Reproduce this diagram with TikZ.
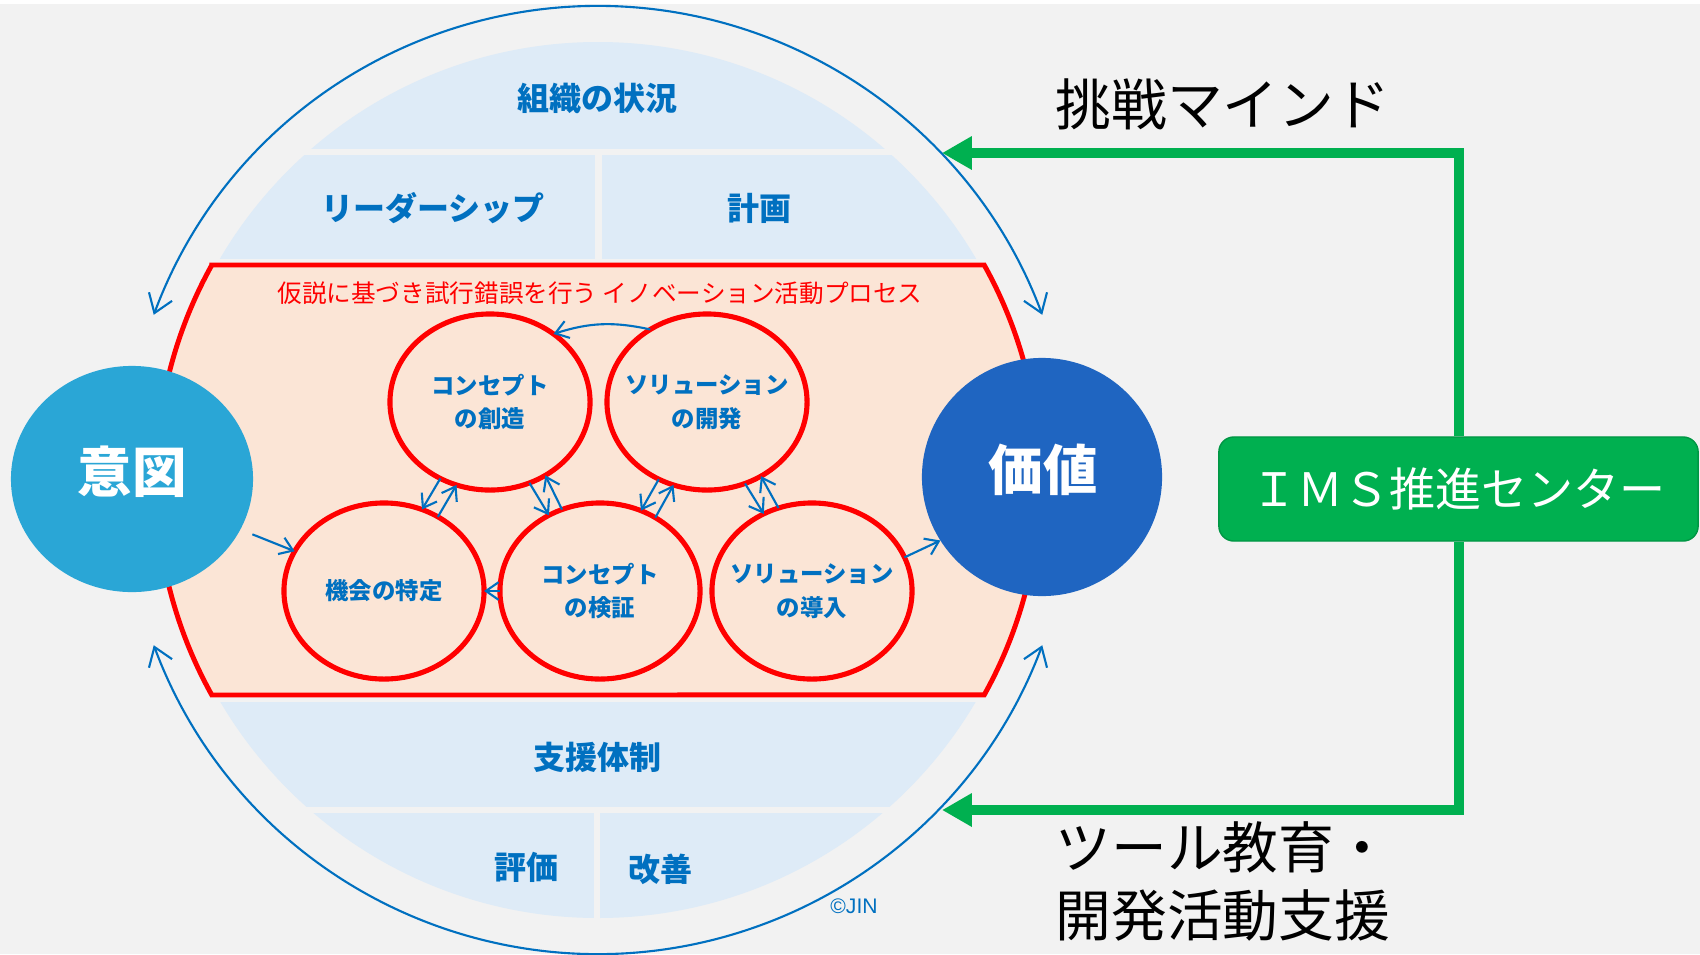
\documentclass[tikz,border=0pt]{standalone}
\usepackage{fontspec}
\newfontfamily\jp{Noto Sans CJK JP}
\newfontfamily\latin{Liberation Sans}
\usetikzlibrary{shapes.geometric,arrows.meta,calc}
\definecolor{bgc}{HTML}{F2F2F2}
\definecolor{lblue}{HTML}{DEEBF7}
\definecolor{peach}{HTML}{FBE5D6}
\definecolor{tblue}{HTML}{0070C0}
\definecolor{rred}{HTML}{FF0000}
\definecolor{itoc}{HTML}{2AA6D6}
\definecolor{kachic}{HTML}{1F65C1}
\definecolor{ggreen}{HTML}{00B050}
\begin{document}
\begin{tikzpicture}[x=0.01cm,y=-0.01cm,
  heading/.style={text=tblue,font=\jp\bfseries\fontsize{9.1}{11}\selectfont,inner sep=0pt},
  stage/.style={ellipse,draw=rred,line width=1.45pt,minimum width=2cm,minimum height=1.76cm,inner sep=0pt,outer sep=0pt},
  stagetext/.style={align=center,text=tblue,inner sep=0pt,font=\jp\bfseries\fontsize{6.65}{9.6}\selectfont},
  bigcircle/.style={ellipse,inner sep=0pt,outer sep=0pt},
  bigtext/.style={text=white,inner sep=0pt,font=\jp\bfseries\fontsize{15.5}{18}\selectfont},
  flowarrow/.style={draw=tblue,line width=0.6pt,-{Straight Barb[length=3.6pt,width=5pt]}},
  loopbarb/.style={draw=tblue,line width=0.6pt,{Straight Barb[length=5pt,width=7pt]}-{Straight Barb[length=5pt,width=7pt]}},
  gline/.style={draw=ggreen,line width=2.85pt,-{Triangle[length=8.5pt,width=9pt]}},
  sidetext/.style={font=\jp\fontsize{15.85}{19.3}\selectfont,align=left,inner sep=0pt,anchor=west}
]
\useasboundingbox (0,0) rectangle (1700,954);
\fill[bgc] (0,0) rectangle (1700,954);
\fill[white] (0,0) rectangle (1700,4);
\coordinate (O) at (598,480);
% light blue bands
\begin{scope}
\clip (O) circle[radius=438];
\fill[lblue] (0,0) rectangle (1700,149);
\fill[lblue] (0,155) rectangle (595,259);
\fill[lblue] (602,155) rectangle (1700,259);
\fill[lblue] (0,702) rectangle (1700,807);
\fill[lblue] (0,813) rectangle (594,954);
\fill[lblue] (600,813) rectangle (1700,954);
\end{scope}
% red process area
\draw[rred,line width=1.4pt,fill=peach,line join=miter] (211.8,265) -- (984.2,265)
  arc[start angle=-29.1,end angle=29.1,radius=442] -- (211.8,695)
  arc[start angle=150.9,end angle=209.1,radius=442] -- cycle;
% outer loop arcs
\draw[loopbarb] ([shift={(200.4:474)}]O) arc[start angle=200.4,end angle=339.6,radius=474];
\draw[loopbarb] ([shift={(159.6:474)}]O) arc[start angle=159.6,end angle=20.4,radius=474];
% headings
\node[heading] (h1) at (597,98) {組織の状況};
\node[heading] (h2) at (433,208) {リーダーシップ};
\node[heading] (h3) at (759,208) {計画};
\node[heading] (h4) at (597,757) {支援体制};
\node[heading] (h5) at (526,867) {評価};
\node[heading] (h6) at (660,869) {改善};
\node[text=tblue,inner sep=0pt,font=\latin\fontsize{6}{7}\selectfont] (copy) at (854,906) {©JIN};
\node[text=rred,inner sep=0pt,font=\jp\fontsize{7}{8}\selectfont] (title) at (600,293) {仮説に基づき試行錯誤を行う イノベーション活動プロセス};
% stages
\node[stage] (c1) at (490,402) {};
\node[stage] (c2) at (707,402) {};
\node[stage] (c3) at (384,591) {};
\node[stage] (c4) at (600,591) {};
\node[stage] (c5) at (812,591) {};
\node[stagetext] (c1t) at (c1) {コンセプト\\の創造};
\node[stagetext] (c2t) at (c2) {ソリューション\\の開発};
\node[stagetext] (c3t) at (c3) {機会の特定};
\node[stagetext] (c4t) at (c4) {コンセプト\\の検証};
\node[stagetext] (c5t) at (c5) {ソリューション\\の導入};
% intent and value
\node[bigcircle,fill=itoc,minimum width=2.42cm,minimum height=2.26cm] (ito) at (132,479) {};
\node[bigcircle,fill=kachic,minimum width=2.40cm,minimum height=2.38cm] (kachi) at (1042,477) {};
\node[bigtext] (itot) at (132,472) {意図};
\node[bigtext] (kachit) at (1043,470) {価値};
% flow arrows
\draw[flowarrow,shorten <=0.13cm] (ito.335) -- (c3.156);
\draw[flowarrow] (c1.237) -- (c3.65);
\draw[flowarrow] (c3.54) -- (c1.248);
\draw[flowarrow] (c1.296) -- (c4.124);
\draw[flowarrow] (c4.115) -- (c1.307);
\draw[flowarrow] (c2.238) -- (c4.63);
\draw[flowarrow] (c4.53) -- (c2.248);
\draw[flowarrow] (c2.295) -- (c5.122);
\draw[flowarrow] (c5.112) -- (c2.306);
\draw[flowarrow] (c4.west) -- (c3.east);
\draw[flowarrow] (c5.20) -- (kachi.212);
\draw[flowarrow] (c2.128) to[bend right=15] (c1.47);
% IMS center and green connectors
\node[fill=ggreen,draw=ggreen!85!black,line width=0.4pt,rounded corners=0.15cm,minimum width=4.79cm,minimum height=1.04cm,text=white,font=\jp\fontsize{13.1}{14}\selectfont] (ims) at (1458.5,489) {ＩＭＳ推進センター};
\coordinate (gtop) at (942,153);
\coordinate (gbot) at (942,810);
\draw[gline] (ims.north) |- (gtop);
\draw[gline] (ims.south) |- (gbot);
\node[sidetext] (mind) at (1055,104) {挑戦マインド};
\node[sidetext] (tool) at (1055,881) {ツール教育・\\開発活動支援};
\end{tikzpicture}
\end{document}
